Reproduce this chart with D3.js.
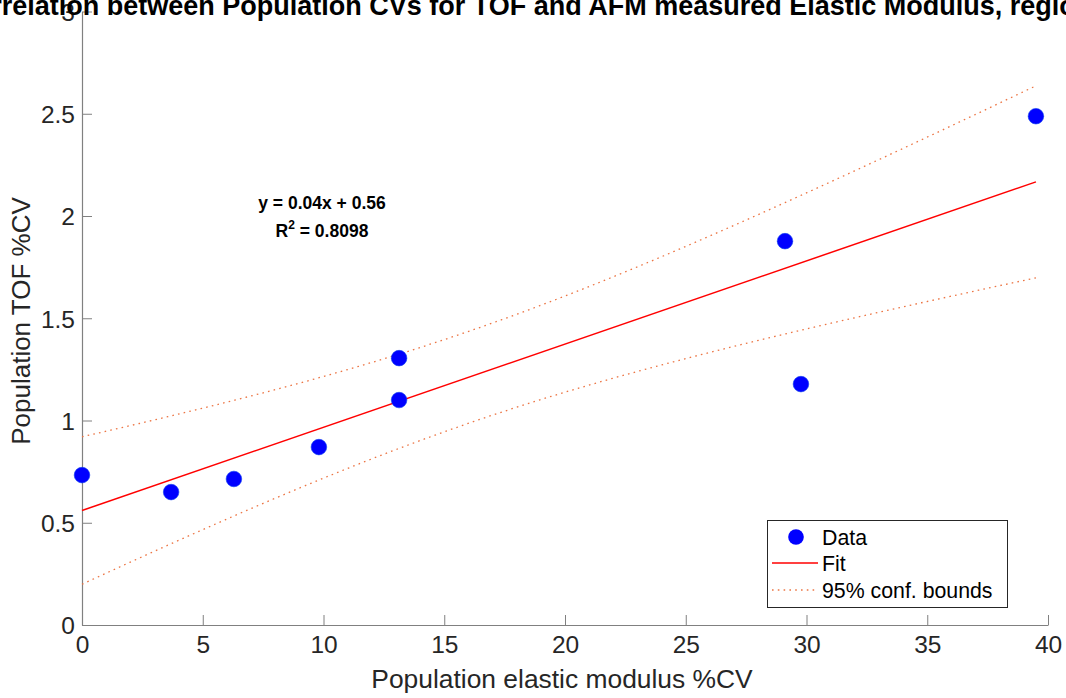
<!DOCTYPE html>
<html>
<head>
<meta charset="utf-8">
<script src="https://cdn.jsdelivr.net/npm/d3@7"></script>
<style>
  html, body { margin: 0; padding: 0; background: #fff; overflow: hidden; }
  svg { display: block; font-family: "Liberation Sans", Arial, Helvetica, sans-serif; }
</style>
</head>
<body>
<svg id="chart" width="1066" height="698"></svg>
<script>
// Population coefficient-of-variation pairs (elastic modulus %CV vs TOF %CV)
const elasticCV = [0, 3.69, 6.29, 9.81, 13.13, 13.13, 29.11, 29.77, 39.5];
const tofCV     = [0.733, 0.65, 0.714, 0.870, 1.305, 1.10, 1.877, 1.178, 2.488];

const xTicks = [0, 5, 10, 15, 20, 25, 30, 35, 40];
const yTicks = [0, 0.5, 1, 1.5, 2, 2.5, 3];
const legendLabels = ["Data", "Fit", "95% conf. bounds"];
const rSquaredText = "0.8098";
const tCrit = 2.3646; // two-sided 95% Student t, n - 2 = 7 degrees of freedom

const titleText = "Correlation between Population CVs for TOF and AFM measured Elastic Modulus, region 1 vs 2";
const xLabel = "Population elastic modulus %CV";
const yLabel = "Population TOF %CV";

// Ordinary least-squares fit and pointwise confidence band for the mean
const n = elasticCV.length;
const mx = d3.mean(elasticCV), my = d3.mean(tofCV);
const sxx = d3.sum(elasticCV, v => (v - mx) ** 2);
const sxy = d3.sum(elasticCV.map((v, i) => (v - mx) * (tofCV[i] - my)));
const slope = sxy / sxx;
const intercept = my - slope * mx;
const sse = d3.sum(elasticCV.map((v, i) => (tofCV[i] - (intercept + slope * v)) ** 2));
const sErr = Math.sqrt(sse / (n - 2));
const fitAt = v => intercept + slope * v;
const halfWidth = v => tCrit * sErr * Math.sqrt(1 / n + (v - mx) ** 2 / sxx);

const xMin = d3.min(elasticCV), xMax = d3.max(elasticCV);
const sampleX = d3.range(0, 101).map(i => xMin + (xMax - xMin) * i / 100);

const svg = d3.select("#chart");
const plotLeft = 82, plotRight = 1048, plotTop = 11.5, plotBottom = 625;

const x = d3.scaleLinear().domain([0, 40]).range([plotLeft, plotRight]);
const y = d3.scaleLinear().domain([0, 3]).range([plotBottom, plotTop]);

const axisColor = "#808080";
const textColor = "#262626";

// Axes (box off, inward ticks)
const gx = svg.append("g").attr("transform", `translate(0,${plotBottom})`)
  .call(d3.axisBottom(x).tickValues(xTicks).tickSizeInner(-10).tickSizeOuter(0).tickPadding(11).tickFormat(d3.format("d")));
const gy = svg.append("g").attr("transform", `translate(${plotLeft},0)`)
  .call(d3.axisLeft(y).tickValues(yTicks).tickSizeInner(-10).tickSizeOuter(0).tickPadding(7).tickFormat(d => d3.format("")(d)));

[gx, gy].forEach(g => {
  g.select(".domain").attr("stroke", axisColor).attr("stroke-width", 1.2);
  g.selectAll(".tick line").attr("stroke", axisColor).attr("stroke-width", 1);
  g.selectAll(".tick text").attr("fill", textColor).attr("font-size", 24.5)
    .attr("font-family", "'Liberation Sans', Arial, sans-serif");
});
gx.selectAll(".tick text").attr("dy", "0.71em");
gy.selectAll(".tick text").attr("dy", "0.36em");

// Axis labels
svg.append("text").attr("x", 562).attr("y", 688)
  .attr("text-anchor", "middle").attr("font-size", 26.4).attr("fill", textColor).text(xLabel);
svg.append("text").attr("transform", "translate(30,321) rotate(-90)")
  .attr("text-anchor", "middle").attr("font-size", 26).attr("fill", textColor).text(yLabel);

// Title (wider than the figure, so it runs past both edges)
svg.append("text").attr("x", (plotLeft + plotRight) / 2).attr("y", 15)
  .attr("text-anchor", "middle").attr("font-size", 27).attr("font-weight", "bold")
  .attr("fill", "#000").text(titleText);

// Confidence bounds
const boundColor = "#ec7544";
const line = d3.line().x(d => x(d[0])).y(d => y(d[1]));
[1, -1].forEach(sign => {
  svg.append("path")
    .attr("d", line(sampleX.map(v => [v, fitAt(v) + sign * halfWidth(v)])))
    .attr("fill", "none").attr("stroke", boundColor).attr("stroke-width", 1.3)
    .attr("stroke-dasharray", "1.6,4.2");
});

// Fit line
svg.append("path")
  .attr("d", line([[xMin, fitAt(xMin)], [xMax, fitAt(xMax)]]))
  .attr("fill", "none").attr("stroke", "#ff0000").attr("stroke-width", 1.5);

// Data points
svg.append("g").selectAll("circle")
  .data(elasticCV.map((v, i) => [v, tofCV[i]]))
  .join("circle")
  .attr("cx", d => x(d[0])).attr("cy", d => y(d[1])).attr("r", 7.8)
  .attr("fill", "#0000ff").attr("stroke", "#0a3cf0").attr("stroke-width", 0.6);

// Fit equation annotation
const ann = svg.append("text").attr("text-anchor", "middle")
  .attr("font-size", 17.5).attr("font-weight", "bold").attr("fill", "#000");
ann.append("tspan").attr("x", 322).attr("y", 209)
  .text(`y = ${slope.toFixed(2)}x + ${intercept.toFixed(2)}`);
const r2 = ann.append("tspan").attr("x", 322).attr("y", 237);
r2.append("tspan").text("R");
r2.append("tspan").attr("font-size", 12).attr("dy", -8).text("2");
r2.append("tspan").attr("dy", 8).text(` = ${rSquaredText}`);

// Legend
const lg = svg.append("g");
lg.append("rect").attr("x", 767.5).attr("y", 520.5).attr("width", 240).attr("height", 87)
  .attr("fill", "#fff").attr("stroke", "#262626").attr("stroke-width", 1);
const rows = [537, 563, 590];
lg.append("circle").attr("cx", 796).attr("cy", rows[0]).attr("r", 7.8).attr("fill", "#0000ff");
lg.append("line").attr("x1", 772).attr("x2", 818).attr("y1", rows[1]).attr("y2", rows[1])
  .attr("stroke", "#ff0000").attr("stroke-width", 1.5);
lg.append("line").attr("x1", 772).attr("x2", 818).attr("y1", rows[2]).attr("y2", rows[2])
  .attr("stroke", boundColor).attr("stroke-width", 1.3).attr("stroke-dasharray", "1.6,4.2");
lg.selectAll("text.lab").data(legendLabels).join("text").attr("class", "lab")
  .attr("x", 822).attr("y", (d, i) => rows[i]).attr("dy", "0.36em")
  .attr("font-size", 21.3).attr("fill", "#000").text(d => d);
</script>
</body>
</html>
